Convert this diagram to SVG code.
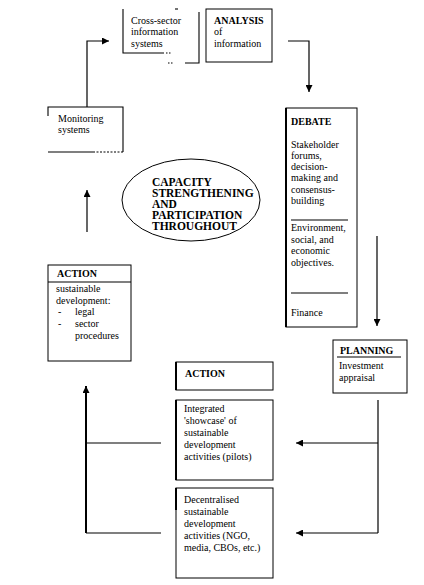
<svg xmlns="http://www.w3.org/2000/svg" width="424" height="585" viewBox="0 0 424 585">
<defs>
<style>
text{font-family:"Liberation Serif","Times New Roman",serif;font-size:10px;fill:#000}
.b{font-weight:bold}
.e{font-weight:bold;font-size:11.5px}
.box{fill:#fff;stroke:#000;stroke-width:1}
.ln{fill:none;stroke:#000;stroke-width:1.1}
.thick{fill:none;stroke:#000;stroke-width:2}
.con{fill:none;stroke:#000;stroke-width:1.2}
</style>
<marker id="ah" viewBox="0 0 10 10" refX="10" refY="5" markerWidth="7" markerHeight="7" markerUnits="userSpaceOnUse" orient="auto">
<path d="M0,0 L10,5 L0,10 z" fill="#000"/>
</marker>
</defs>
<rect width="424" height="585" fill="#fff"/>

<g id="connectors">
<path class="con" d="M87,107 V41 H109" marker-end="url(#ah)"/>
<path class="con" d="M288,41 H309 V92" marker-end="url(#ah)"/>
<path class="con" d="M377,236 V326" marker-end="url(#ah)"/>
<path class="con" d="M378,400 V533"/>
<path class="con" d="M378,443 H296" marker-end="url(#ah)"/>
<path class="con" d="M378,533 H296" marker-end="url(#ah)"/>
<path class="con" d="M161,443 H86"/>
<path class="con" d="M161,533 H86"/>
<path class="thick" d="M86,533 V386" marker-end="url(#ah)"/>
<path class="con" d="M87,232 V190" marker-end="url(#ah)"/>
</g>

<g id="cross-sector">
<path class="ln" d="M123,9 V53 H164"/>
<path class="ln" d="M166,53 H172" stroke-dasharray="1.5 1.5"/>
<path class="ln" d="M175,9 H178"/>
<path class="ln" d="M199,12 V63 H185"/>
<path class="ln" d="M168,63 H173" stroke-dasharray="1.5 1.5"/>
<text x="131" y="24">Cross-sector</text>
<text x="131" y="35">information</text>
<text x="131" y="47">systems</text>
</g>

<g id="analysis">
<rect class="box" x="206" y="9" width="66" height="53"/>
<text class="b" x="214" y="24">ANALYSIS</text>
<text x="214" y="35">of</text>
<text x="214" y="47">information</text>
</g>

<g id="monitoring">
<path class="ln" d="M48,116 V107 H123 V152"/>
<path class="ln" d="M48,152 H93"/>
<path class="ln" d="M93,152 H123" stroke-dasharray="2 1.5"/>
<text x="58" y="122">Monitoring</text>
<text x="58" y="133">systems</text>
</g>

<g id="capacity">
<ellipse cx="191" cy="200" rx="69" ry="41" fill="none" stroke="#000" stroke-width="1"/>
<text class="e" x="152" y="186">CAPACITY</text>
<text class="e" x="152" y="197">STRENGTHENING</text>
<text class="e" x="152" y="208">AND</text>
<text class="e" x="152" y="219">PARTICIPATION</text>
<text class="e" x="152" y="230">THROUGHOUT</text>
</g>

<g id="debate">
<rect class="box" x="286" y="108" width="71" height="219"/>
<path class="thick" d="M286,108 V327"/>
<text class="b" x="291" y="125">DEBATE</text>
<text x="291" y="148">Stakeholder</text>
<text x="291" y="159">forums,</text>
<text x="291" y="170">decision-</text>
<text x="291" y="181">making and</text>
<text x="291" y="193">consensus-</text>
<text x="291" y="204">building</text>
<path class="ln" d="M291,220 H348"/>
<text x="291" y="231">Environment,</text>
<text x="291" y="243">social, and</text>
<text x="291" y="254">economic</text>
<text x="291" y="266">objectives.</text>
<path class="ln" d="M291,293 H348"/>
<text x="291" y="316">Finance</text>
</g>

<g id="action-left">
<rect class="box" x="48" y="265" width="83" height="96"/>
<path class="ln" d="M48,282 H131"/>
<text class="b" x="57" y="277">ACTION</text>
<text x="56" y="292">sustainable</text>
<text x="56" y="304">development:</text>
<text x="58" y="315">-</text>
<text x="75" y="315">legal</text>
<text x="58" y="327">-</text>
<text x="75" y="327">sector</text>
<text x="75" y="339">procedures</text>
</g>

<g id="planning">
<rect class="box" x="333" y="340" width="74" height="53"/>
<path class="ln" d="M337,357 H401"/>
<text class="b" x="340" y="354">PLANNING</text>
<text x="339" y="369">Investment</text>
<text x="339" y="381">appraisal</text>
</g>

<g id="action-middle">
<rect class="box" x="176" y="362" width="97" height="28"/>
<path class="thick" d="M176,362 V390"/>
<text class="b" x="185" y="377">ACTION</text>
</g>

<g id="integrated">
<rect class="box" x="176" y="400" width="97" height="80"/>
<path class="thick" d="M176,400 V480"/>
<text x="184" y="412">Integrated</text>
<text x="184" y="424">'showcase' of</text>
<text x="184" y="436">sustainable</text>
<text x="184" y="448">development</text>
<text x="184" y="460">activities (pilots)</text>
</g>

<g id="decentralised">
<rect class="box" x="176" y="488" width="97" height="90"/>
<path class="thick" d="M176,488 V510"/>
<text x="184" y="503">Decentralised</text>
<text x="184" y="515">sustainable</text>
<text x="184" y="527">development</text>
<text x="184" y="539">activities (NGO,</text>
<text x="184" y="551">media, CBOs, etc.)</text>
</g>
</svg>
